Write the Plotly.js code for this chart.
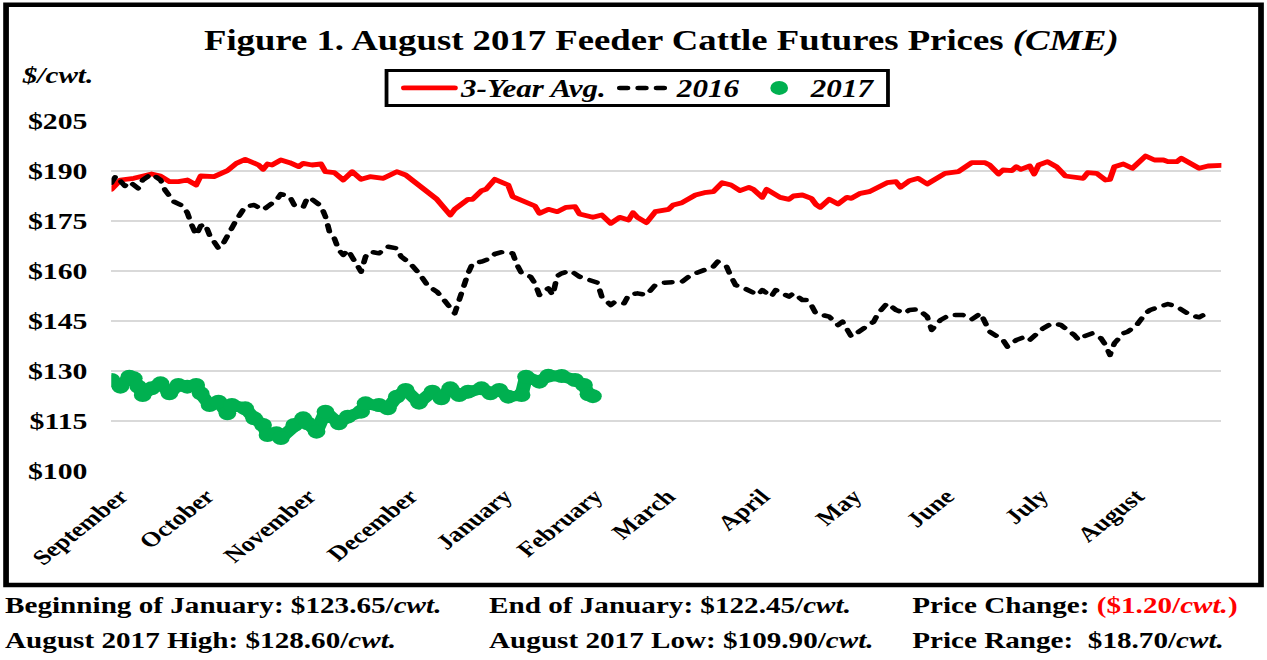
<!DOCTYPE html>
<html>
<head>
<meta charset="utf-8">
<script src="https://cdn.plot.ly/plotly-3.0.1.min.js"></script>
<style>
  html, body { margin: 0; padding: 0; background: #fff; overflow: hidden; }
  #chart { width: 1000px; height: 660px; transform: scaleX(1.267); transform-origin: 0 0; }
  #chart path.js-line { stroke-linecap: round !important; stroke-linejoin: round !important; }
</style>
</head>
<body>
<div id="chart"></div>
<script>
// Trading-day index (0 = start of September 2016)
const avgDay = [0,2,5,7,9,11,13,15,17,19,20,23,24,26,28,30,33,34,35,36,38,40,42,43,45,47,48,50,52,54,56,58,61,64,66,69,71,73,76,77,80,81,83,84,86,89,90,93,95,96,98,100,102,104,105,108,110,112,114,116,117,118,120,122,125,126,128,131,133,135,137,139,141,143,144,146,147,150,152,153,155,157,158,159,161,163,165,166,168,170,172,174,176,177,179,181,183,185,187,190,191,193,196,197,199,200,202,203,204,206,207,208,210,212,214,216,218,219,221,223,224,225,227,229,231,232,234,236,237,239,240,242,244,246,249];
const avgPrice = [184.5,187.3,187.8,188.3,189.1,188.5,186.8,186.8,187.3,185.8,188.5,188.3,188.8,190.1,192.3,193.5,191.8,190.5,192.1,191.8,193.3,192.5,191.3,192.3,191.8,192.1,189.8,189.5,187.3,189.8,187.5,188.3,187.8,189.8,188.8,185.8,183.8,181.5,176.8,178.5,181.5,181.5,184.1,184.5,187.5,185.8,182.3,180.8,179.5,177.3,178.5,177.8,179.1,179.3,177.1,176.1,176.8,174.3,176.1,175.3,177.5,176.1,174.5,177.8,178.5,179.8,180.5,182.8,183.5,183.8,186.5,185.8,184.1,185.1,184.5,182.1,184.5,182.1,181.5,182.5,182.8,181.8,180.0,179.1,181.5,180.1,182.1,181.8,183.3,183.8,185.1,186.5,186.8,185.1,187.1,187.8,186.1,187.8,189.3,189.8,190.8,192.5,192.5,191.8,189.1,190.3,190.1,191.3,190.5,191.5,189.1,191.8,192.8,191.3,188.5,188.1,187.8,189.5,189.3,187.3,187.5,191.3,192.1,190.8,193.1,194.5,193.3,193.3,192.8,192.8,193.8,192.3,190.8,191.5,191.7];

const day2016 = [0,1,3,4,6,7,9,11,12,14,16,17,18,19,20,21,22,23,24,25,26,28,29,30,32,34,35,37,38,40,41,43,44,45,47,48,49,50,51,52,53,54,56,57,58,60,62,64,65,67,69,71,73,74,76,77,78,79,80,81,83,85,86,88,90,91,92,94,95,96,98,99,100,101,103,105,107,109,110,112,113,115,116,118,120,122,124,126,128,130,132,135,136,138,139,140,142,145,146,148,149,152,153,155,156,157,158,161,163,164,166,169,171,172,174,176,178,179,181,183,184,186,188,191,193,195,196,197,200,201,203,205,206,209,211,213,216,217,218,220,222,223,224,225,227,228,230,232,233,235,237,239,241,242,244,245,246];
const price2016 = [186.5,188.5,185.5,186.8,184.8,187.3,189.1,187.3,184.3,180.8,179.5,177.5,173.8,170.8,173.5,174.1,170.8,168.5,166.8,168.1,170.8,175.3,177.3,179.3,179.8,178.3,179.3,181.3,183.1,182.3,179.8,179.1,182.1,181.5,179.5,176.3,171.3,169.8,166.3,164.8,166.3,164.3,159.8,164.3,165.8,165.3,167.3,166.8,164.3,162.3,159.3,155.5,153.8,152.3,149.3,147.3,151.3,156.0,159.3,162.3,162.8,163.8,165.1,165.8,165.3,161.8,159.3,158.3,156.3,152.8,154.8,152.8,158.5,159.3,160.1,158.3,157.3,156.5,152.3,149.8,150.8,150.3,152.8,153.3,152.8,155.8,156.5,156.5,156.8,158.8,159.8,161.3,162.8,161.3,158.3,155.8,154.8,152.8,154.3,152.3,154.3,152.3,153.3,151.3,151.3,149.8,147.3,146.3,143.8,144.8,140.3,142.8,144.8,147.3,150.3,148.3,147.3,148.3,148.5,146.3,142.3,145.3,146.8,146.8,145.5,147.3,144.8,141.8,139.3,137.3,139.3,140.3,139.3,142.8,144.3,143.8,140.8,139.3,140.3,141.3,139.8,137.8,134.8,138.3,141.3,141.8,143.8,147.3,148.3,149.3,150.1,149.3,147.8,146.8,146.1,146.8,146.5];

const day2017 = [0,2,4,5,6,7,9,11,13,15,17,19,20,22,24,26,27,30,32,34,35,37,38,41,43,44,46,48,51,53,56,57,60,62,64,66,69,72,74,76,78,80,83,85,87,89,92,93,96,98,101,104,106,107,108];
const price2017 = [127.3,125.3,128.3,127.8,125.3,122.8,124.8,126.3,123.3,125.8,125.3,125.8,123.3,119.8,120.8,117.3,119.8,118.8,115.8,113.8,110.8,111.3,109.9,113.8,115.8,114.3,111.8,117.8,114.3,116.3,117.8,120.3,119.8,118.8,122.3,124.3,120.5,123.8,121.8,124.8,122.8,123.8,124.8,123.3,124.3,122.3,122.8,128.3,126.8,128.6,128.5,127.3,125.8,123.0,122.45];

const seriesNames = ['3-Year Avg.', '2016', '2017'];
const monthLabels = ['September','October','November','December','January','February','March','April','May','June','July','August'];
const monthTick = [2.0,21.3,44.2,67.0,88.1,108.4,124.7,145.9,166.5,187.3,208.4,229.9];
const yTicks = [100,115,130,145,160,175,190,205];
const yTickText = ['$100','$115','$130','$145','$160','$175','$190','$205'];

const footRow1 = [
  '<b>Beginning of January: $123.65/<i>cwt.</i></b>',
  '<b>End of January: $122.45/<i>cwt.</i></b>',
  '<b>Price Change: <span style="color:#ff0000">($1.20/<i>cwt.</i>)</span></b>'
];
const footRow2 = [
  '<b>August 2017 High: $128.60/<i>cwt.</i></b>',
  '<b>August 2017 Low: $109.90/<i>cwt.</i></b>',
  '<b>Price Range:  $18.70/<i>cwt.</i></b>'
];

const SERIF = 'Liberation Serif, Times New Roman, serif';
const GREEN = '#00b050';

const traces = [
  { x: avgDay, y: avgPrice, name: seriesNames[0], type: 'scatter', mode: 'lines',
    line: { color: '#ff0000', width: 4.8 } },
  { x: day2016, y: price2016, name: seriesNames[1], type: 'scatter', mode: 'lines',
    line: { color: '#000000', width: 4.5, dash: '6px,8.5px' } },
  { x: day2017, y: price2017, name: seriesNames[2], type: 'scatter', mode: 'lines',
    line: { color: GREEN, width: 11 }, showlegend: false, hoverinfo: 'skip' },
  { x: day2017, y: price2017, name: seriesNames[2], type: 'scatter', mode: 'markers',
    marker: { color: GREEN, size: 14, line: { width: 0 } } }
];

const colX = [-0.098, 0.338, 0.7194];
const rowY = [-0.383, -0.483];
const annotations = [
  { text: '<b><i>$/cwt.</i></b>', xref: 'paper', yref: 'paper', x: -0.0486, y: 1.1314,
    xanchor: 'center', yanchor: 'middle', showarrow: false,
    font: { family: SERIF, size: 23, color: '#000' } }
];
[footRow1, footRow2].forEach((row, r) => row.forEach((t, c) => annotations.push({
  text: t, xref: 'paper', yref: 'paper', x: colX[c], y: rowY[r], xanchor: 'left', yanchor: 'middle',
  showarrow: false, font: { family: SERIF, size: 23, color: '#000' }
})));

const layout = {
  width: 1000, height: 660,
  margin: { l: 88, r: 36, t: 121, b: 189 },
  paper_bgcolor: '#fff', plot_bgcolor: '#fff',
  title: { text: '<b>Figure 1. August 2017 Feeder Cattle Futures Prices <i>(CME)</i></b>',
    x: 0.522, xanchor: 'center', y: 0.94, yanchor: 'middle',
    font: { family: SERIF, size: 29, color: '#000' } },
  xaxis: { range: [0, 249], showgrid: false, zeroline: false, showline: false, ticks: '',
    tickmode: 'array', tickvals: monthTick, ticktext: monthLabels, tickangle: -45,
    ticklabelstandoff: 8,
    tickfont: { family: SERIF, size: 21, color: '#000', weight: 'bold' } },
  yaxis: { range: [100, 205], tickmode: 'array', tickvals: yTicks, ticktext: yTickText,
    showgrid: true, gridcolor: '#d9d9d9', gridwidth: 2, zeroline: false, showline: false, ticks: '',
    ticklabelstandoff: 18,
    tickfont: { family: SERIF, size: 23.5, color: '#000', weight: 'bold' } },
  showlegend: true,
  legend: { orientation: 'h', x: 0.2579, y: 1.0943, xanchor: 'left', yanchor: 'middle',
    borderwidth: 0, bgcolor: 'rgba(0,0,0,0)', itemwidth: 40,
    font: { family: SERIF, size: 24.5, color: '#000', weight: 'bold', style: 'italic' } },
  shapes: [
    { type: 'rect', xref: 'paper', yref: 'paper', x0: -0.095, x1: 1.0357, y0: -0.3257, y1: 1.3323,
      line: { color: '#000', width: 4.5 }, fillcolor: 'rgba(0,0,0,0)' },
    { type: 'rect', xref: 'paper', yref: 'paper', x0: 0.2478, x1: 0.6996, y0: 1.0443, y1: 1.1443,
      line: { color: '#000', width: 3 }, fillcolor: '#fff', layer: 'above' }
  ],
  annotations: annotations
};

Plotly.newPlot('chart', traces, layout, { displayModeBar: false, staticPlot: true });
</script>
</body>
</html>
